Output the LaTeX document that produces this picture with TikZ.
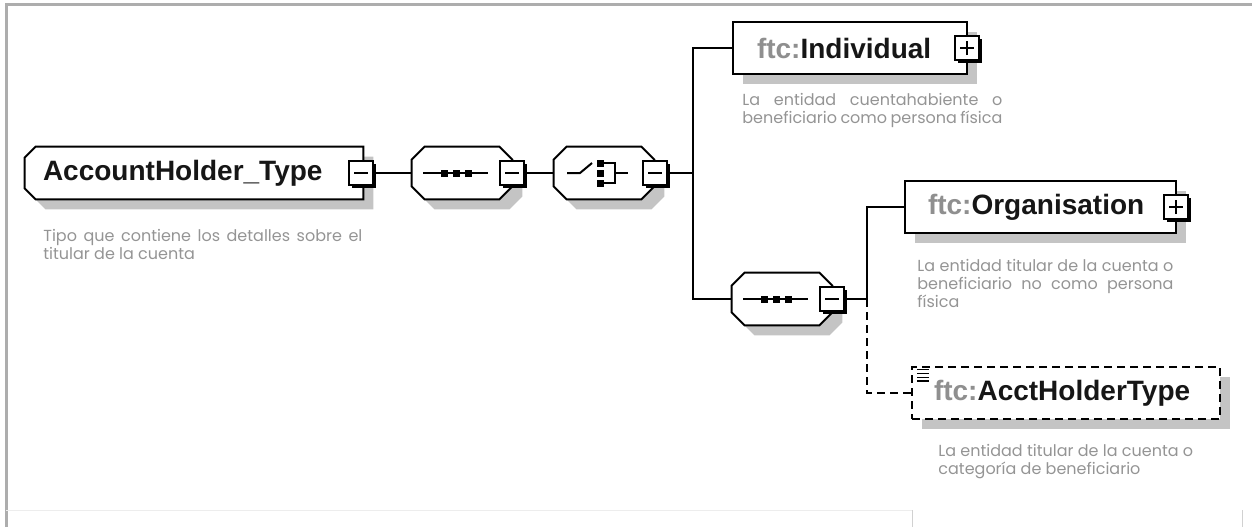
\documentclass[tikz,border=0pt]{standalone}
\usepackage{fontspec}
\setmainfont{Poppins}
\setsansfont{Liberation Sans}
\usetikzlibrary{shadows,backgrounds}
\definecolor{ftcgray}{HTML}{8F8F8F}
\definecolor{namecol}{HTML}{161616}
\definecolor{descgray}{HTML}{949494}
\definecolor{shadowgray}{HTML}{C4C4C4}
\definecolor{framegray}{HTML}{ADADAD}
\newcommand{\ftc}{{\color{ftcgray}ftc:}}
% contour a pans coupes: noeud, coupe gauche, coupe droite
\newcommand{\chamf}[3]{\draw[line width=1pt,fill=white,boxshadow]
  ([xshift=#2]#1.north west) -- ([xshift=-#3]#1.north east) -- ([yshift=-#3]#1.north east)
  -- ([yshift=#3]#1.south east) -- ([xshift=-#3]#1.south east) -- ([xshift=#2]#1.south west)
  -- ([yshift=#2]#1.south west) -- ([yshift=-#2]#1.north west) -- cycle;}
\newcommand{\seqsym}[1]{\begin{scope}[shift={(#1.center)}]
  \draw[line width=1pt] (-39,0) -- (26,0);
  \foreach \i in {-18,-6,6} \fill[black] (\i-3.5,-3.5) rectangle (\i+3.5,3.5);
  \end{scope}}
\newcommand{\choicesym}[1]{\begin{scope}[shift={(#1.center)}]
  \draw[line width=1pt] (-37,0) -- (-24,0) -- (-12,-10);
  \foreach \j in {-10,0,10} \fill[black] (-7.5,\j-3.5) rectangle (-0.5,\j+3.5);
  \draw[line width=1pt] (-0.5,-10) -- (11,-10) -- (11,10) -- (-0.5,10) (11,0) -- (24,0);
  \end{scope}}
\tikzset{
  boxshadow/.style={drop shadow={shadow xshift=5pt,shadow yshift=-5pt,fill=shadowgray,opacity=1}},
  elem/.style={draw,line width=1pt,fill=white,boxshadow,minimum height=26pt,inner ysep=0pt,
    align=left,text=namecol,font=\sffamily\bfseries\fontsize{14}{16}\selectfont},
  compo/.style={minimum width=50pt,minimum height=26pt,inner sep=0pt},
  tog/.style={draw,line width=1pt,fill=white,minimum size=12pt,inner sep=0pt,
    drop shadow={shadow xshift=1.5pt,shadow yshift=-1.5pt,fill=black,opacity=1}},
  minus/.style={tog,path picture={\draw[line width=.8pt]
    ([xshift=-3.5pt]path picture bounding box.center) -- ([xshift=3.5pt]path picture bounding box.center);}},
  plus/.style={tog,path picture={\draw[line width=.8pt]
    ([xshift=-3.5pt]path picture bounding box.center) -- ([xshift=3.5pt]path picture bounding box.center)
    ([yshift=-3.5pt]path picture bounding box.center) -- ([yshift=3.5pt]path picture bounding box.center);}},
  desc/.style={anchor=north west,inner sep=0pt,text=descgray,font=\fontsize{8}{9}\selectfont},
  conn/.style={line width=1pt}
}
\begin{document}
\begin{tikzpicture}[x=0.5pt,y=-0.5pt,line join=miter]
\useasboundingbox (0,0) rectangle (1252,527);
% cadre
\draw[framegray,line width=1.5pt] (6,527) -- (6,4) -- (1252,4);
\draw[black!7,line width=.5pt] (6,510) -- (912,510);
\draw[black!18,line width=.5pt] (912,510) -- (912,527) (1242,510) -- (1242,527);
% type
\node[compo,minimum width=169pt,align=left,text width=151pt,inner xsep=9pt,text=namecol,
  font=\sffamily\bfseries\fontsize{14}{16}\selectfont] (hold) at (194,173) {AccountHolder\_Type};
\begin{scope}[on background layer]
\chamf{hold}{5.5pt}{0pt}
\end{scope}
\node[minus] (hold-t) at (361,173) {};
\node[desc,text width=159.5pt,align=justify] (hold-d) at (43,229)
  {Tipo que contiene los detalles sobre el\linebreak titular de la cuenta};
% compositors
\node[compo] (seqA) at (462,173) {};
\chamf{seqA}{6.5pt}{6.5pt} \seqsym{seqA}
\node[minus] (seqA-t) at (512,173) {};
\node[compo] (choice) at (604,173) {};
\chamf{choice}{6.5pt}{6.5pt} \choicesym{choice}
\node[minus] (choice-t) at (655,173) {};
\node[compo] (seqB) at (782,299) {};
\chamf{seqB}{6.5pt}{6.5pt} \seqsym{seqB}
\node[minus] (seqB-t) at (832,299) {};
% elements
\node[elem,text width=93pt,inner xsep=12pt] (ind) at (850,48) {\ftc Individual};
\node[plus] (ind-t) at (967,48) {};
\node[desc,text width=130pt,align=justify] (ind-d) at (742,93)
  {La entidad cuentahabiente o\linebreak beneficiario como persona física};
\node[elem,text width=112.5pt,inner xsep=11.5pt] (org) at (1040.5,207) {\ftc Organisation};
\node[plus] (org-t) at (1176,207) {};
\node[desc,text width=128pt,align=justify] (org-d) at (917,259)
  {La entidad titular de la cuenta o\linebreak beneficiario no como persona\linebreak física};
\node[elem,dash pattern=on 4pt off 2.5pt,text width=132pt,inner xsep=11pt] (acct) at (1066,393) {\ftc AcctHolderType};
\foreach \k in {0,1,2,3}
  \draw[line width=.6pt] ([xshift=3pt,yshift={-1.8pt-1.9pt*\k}]acct.north west) -- ++(6pt,0);
\node[desc,align=left] (acct-d) at (938,444)
  {La entidad titular de la cuenta o\\categoría de beneficiario};
% connectors
\coordinate (jA) at (693,173);
\coordinate (jB) at (867,299);
\draw[conn] (hold-t.east) -- (seqA.west);
\draw[conn] (seqA-t.east) -- (choice.west);
\draw[conn] (choice-t.east) -- (jA);
\draw[conn] (ind.west) -| (jA) |- (seqB.west);
\draw[conn] (seqB-t.east) -- (jB);
\draw[conn] (org.west) -| (jB);
\draw[conn,dash pattern=on 4pt off 2.5pt] (jB) |- (acct.west);
\end{tikzpicture}
\end{document}
